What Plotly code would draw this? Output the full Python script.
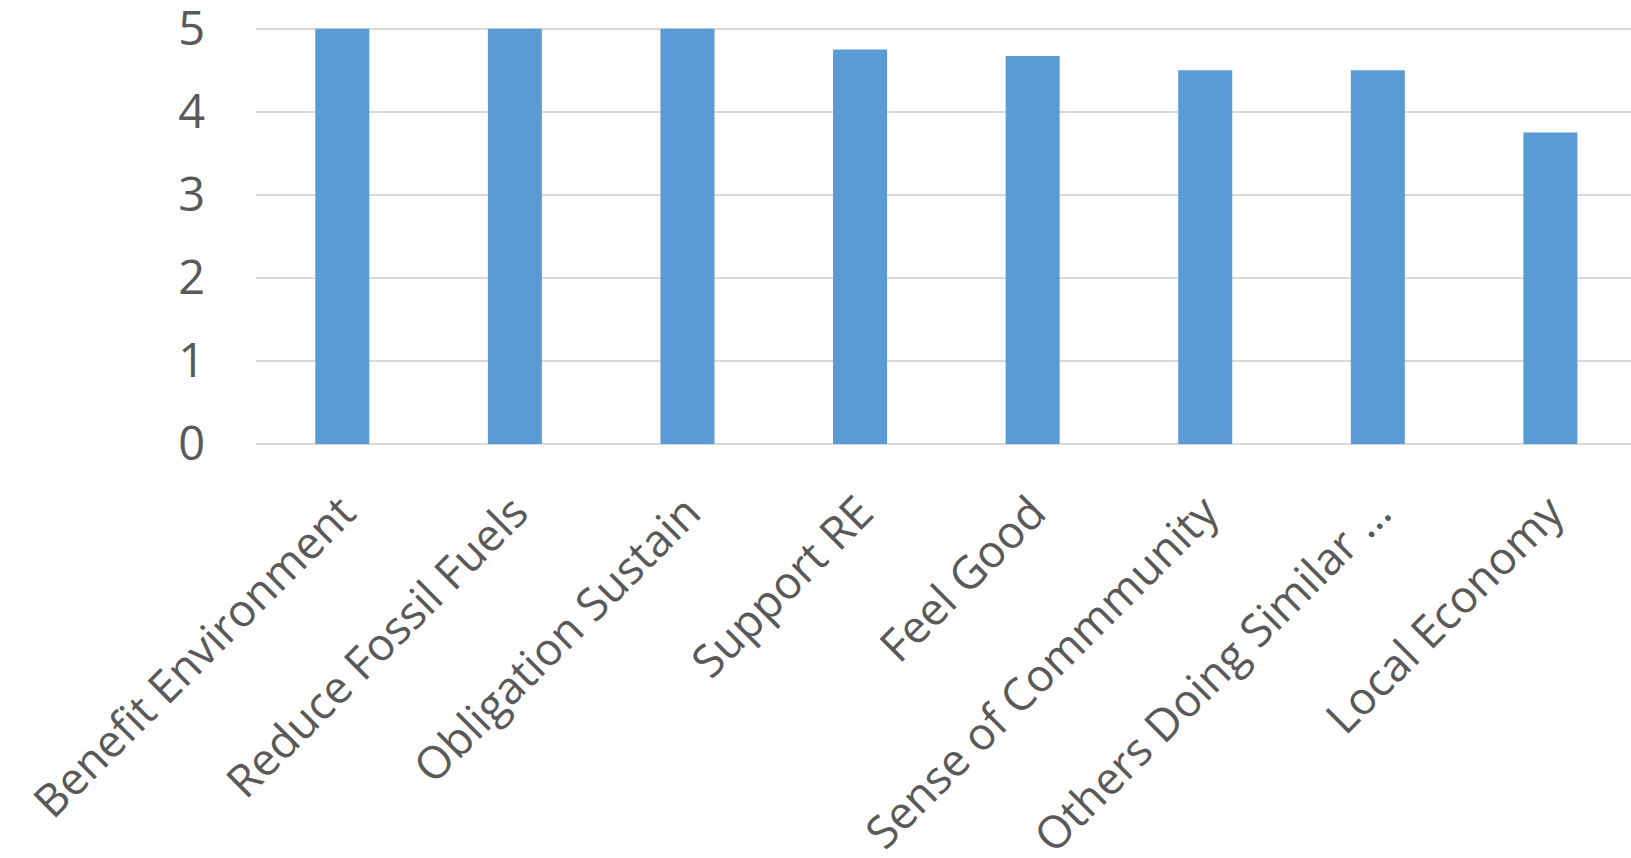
import plotly.graph_objects as go

# Survey motivations and their mean ratings
categories = [
    "Benefit Environment",
    "Reduce Fossil Fuels",
    "Obligation Sustain",
    "Support RE",
    "Feel Good",
    "Sense of Commmunity",
    "Others Doing Similar …",
    "Local Economy",
]
ratings = [5, 5, 5, 4.75, 4.67, 4.5, 4.5, 3.75]
y_ticks = [0, 1, 2, 3, 4, 5]

BAR_COLOR = "#5B9BD5"
GRID_COLOR = "#D9D9D9"
TEXT_COLOR = "#595959"
FONT = "Open Sans"

fig = go.Figure(
    go.Bar(
        x=categories,
        y=ratings,
        marker=dict(color=BAR_COLOR, line=dict(width=0)),
        hoverinfo="x+y",
    )
)

fig.update_layout(
    width=1631,
    height=858,
    margin=dict(l=256, r=0, t=27, b=414, pad=0),
    paper_bgcolor="white",
    plot_bgcolor="white",
    bargap=0.687,
    showlegend=False,
    font=dict(family=FONT, color=TEXT_COLOR, size=47),
)

fig.update_xaxes(
    type="category",
    range=[-0.5, 7.467],
    automargin=False,
    tickangle=-45,
    tickfont=dict(family=FONT, color=TEXT_COLOR, size=45),
    ticklabeloverflow="allow",
    showgrid=False,
    showline=False,
    ticks="",
    zeroline=False,
    ticklabelstandoff=32,
)

fig.update_yaxes(
    range=[0, 5.02],
    automargin=False,
    tickmode="array",
    tickvals=y_ticks,
    ticktext=[str(v) for v in y_ticks],
    tickfont=dict(family=FONT, color=TEXT_COLOR, size=47),
    ticklabeloverflow="allow",
    showgrid=True,
    gridcolor=GRID_COLOR,
    gridwidth=2,
    zeroline=True,
    zerolinecolor=GRID_COLOR,
    zerolinewidth=2,
    showline=False,
    ticks="",
    ticklabelstandoff=50,
)

fig.write_html("out.html")
